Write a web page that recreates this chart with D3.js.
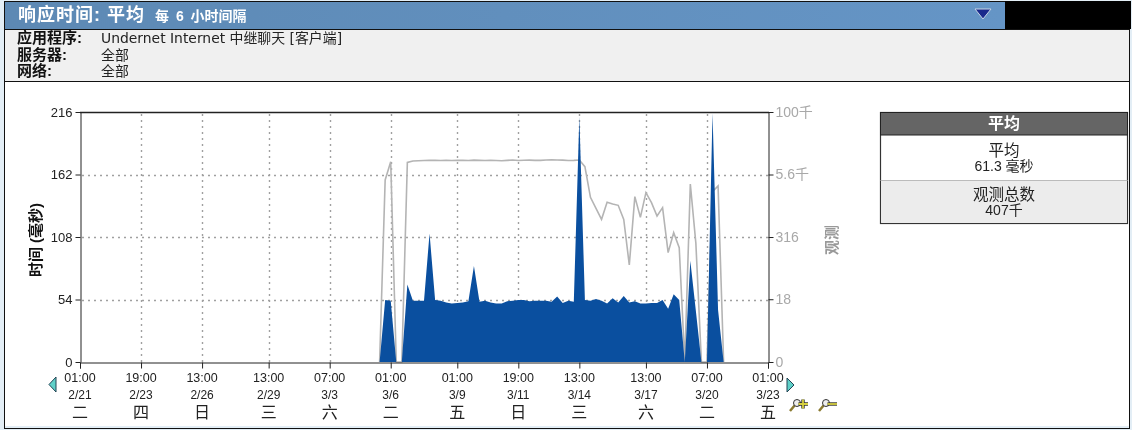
<!DOCTYPE html>
<html lang="zh-CN"><head><meta charset="utf-8">
<style>
html,body{margin:0;padding:0;background:#e3eef6;overflow:hidden}
svg{display:block;filter:blur(.3px)}
text{font-family:"Liberation Sans","Noto Sans CJK SC",sans-serif;font-size:12px}
</style>
<script src="https://cdn.jsdelivr.net/npm/d3@7"></script>
</head><body><div id="c"></div>
<script>
const titleMain = "响应时间: 平均";
const titleSub = "每 6 小时间隔";
const infoLabels = ["应用程序:", "服务器:", "网络:"];
const infoValues = ["Undernet Internet 中继聊天 [客户端]", "全部", "全部"];
const yLeftTicks = [0, 54, 108, 162, 216];
const yRightTicks = [1, 18, 316, 5623, 100000];
const yRightLabels = ["0", "18", "316", "5.6千", "100千"];
const xTickStamps = ["2012-02-21T01:00Z","2012-02-23T19:00Z","2012-02-26T13:00Z","2012-02-29T13:00Z","2012-03-03T07:00Z","2012-03-06T01:00Z","2012-03-09T01:00Z","2012-03-11T19:00Z","2012-03-14T13:00Z","2012-03-17T13:00Z","2012-03-20T07:00Z","2012-03-23T01:00Z"];
const xTimeLabels = ["01:00","19:00","13:00","13:00","07:00","01:00","01:00","19:00","13:00","13:00","07:00","01:00"];
const xDateLabels = ["2/21","2/23","2/26","2/29","3/3","3/6","3/9","3/11","3/14","3/17","3/20","3/23"];
const xDayLabels = ["二","四","日","三","六","二","五","日","三","六","二","五"];
const seriesStart = "2012-03-05T13:00Z";
const stepHours = 6;
const responseMs = [0,53.6,53,0,0,67,53,53,53,111,53.6,53,51.5,50.5,51,51.5,52.5,83,52,53,51.5,50.5,50.5,52.5,53,53.6,53.5,52.5,53,53,53,52,56.5,51,53,52,212,53.5,53,54.5,53,50.5,55,51.5,57,51.5,52.5,50.5,50.5,51,51,53.5,46,58.5,53.5,0,87.5,44,0,0,215,45,0];
const observations = [1,4365,10150,1,1,9800,10500,10600,10700,10800,10800,10700,10800,10750,10800,10800,10700,10900,10800,10700,10850,10700,10600,10800,10950,10700,10850,10900,10800,10800,10950,11100,10950,10900,10700,10800,10965,8066,1965,1184,713,1561,1445,1360,713,87,2027,782,2437,1537,832,1221,154,386,194,1,3631,236,1,1,2552,3311,1];
const panelTitle = "平均";
const panelRows = [["平均","61.3 毫秒"],["观测总数","407千"]];
const leftAxisTitle = "时间 (毫秒)";
const rightAxisTitle = "观测";

const W=1132,H=430;
const svg=d3.select("#c").append("svg").attr("width",W).attr("height",H);
const defs=svg.append("defs");
const g1=defs.append("linearGradient").attr("id","hdr");
g1.append("stop").attr("offset","0").attr("stop-color","#5d89b4");
g1.append("stop").attr("offset","1").attr("stop-color","#6595c6");

// frame
svg.append("rect").attr("x",4.5).attr("y",1.5).attr("width",1125).attr("height",427).attr("fill","#e3eef6").attr("stroke","#111");
svg.append("rect").attr("x",5).attr("y",82).attr("width",1124).attr("height",344).attr("fill","#fff");
svg.append("rect").attr("x",5).attr("y",2).attr("width",1000).attr("height",27).attr("fill","url(#hdr)");
svg.append("rect").attr("x",1005).attr("y",1).attr("width",126).attr("height",28).attr("fill","#000");
svg.append("rect").attr("x",5).attr("y",30).attr("width",1124).attr("height",51).attr("fill","#f0f0f0");
svg.append("path").attr("d","M4 29.5H1130M4 81.5H1130").attr("stroke","#111");
svg.append("text").attr("x",18).attr("y",21).attr("fill","#fff").style("font-size","18px").style("letter-spacing","1px").style("font-weight",700).text(titleMain);
svg.append("text").attr("x",155).attr("y",21).attr("fill","#fff").style("font-size","14px").style("word-spacing","3px").style("font-weight",700).text(titleSub);
svg.append("path").attr("d","M975 9H991L983 19Z").attr("fill","#1a2a8c").attr("stroke","#c8d4e4");
const infoY=[43,60,76];
infoLabels.forEach((t,i)=>{
  svg.append("text").attr("x",17).attr("y",infoY[i]).attr("fill","#111").style("font-size","15px").style("font-weight",700).text(t);
  svg.append("text").attr("x",101).attr("y",infoY[i]).attr("fill","#222").style("font-family",'"DejaVu Sans","Noto Sans CJK SC",sans-serif').style("font-size","13.9px").text(infoValues[i]);
});

// scales
const parse=d3.utcParse("%Y-%m-%dT%H:%MZ");
const xTickDates=xTickStamps.map(parse);
const x=d3.scaleUtc().domain([xTickDates[0],xTickDates[xTickDates.length-1]]).range([80,768]);
const yL=d3.scaleLinear().domain([0,216]).range([362,112]);
const yR=d3.scaleLog().domain([1,100000]).range([362,112]);
const t0=parse(seriesStart);
const tAt=i=>new Date(+t0+i*stepHours*3600e3);

// grid
const grid=svg.append("g").attr("stroke","#a0a0a0").attr("stroke-width",1.4).attr("stroke-dasharray","2,4");
xTickDates.slice(1,-1).forEach(d=>grid.append("line").attr("x1",Math.round(x(d))+.5).attr("x2",Math.round(x(d))+.5).attr("y1",114).attr("y2",362));
yLeftTicks.slice(1,-1).forEach(v=>grid.append("line").attr("x1",82).attr("x2",768).attr("y1",Math.round(yL(v))+.5).attr("y2",Math.round(yL(v))+.5));

// observations under, response area above
svg.append("path").datum(observations).attr("fill","none").attr("stroke","#b4b4b4").attr("stroke-width",1.6)
 .attr("d",d3.line().x((d,i)=>x(tAt(i))).y(d=>yR(d)));
svg.append("path").datum(responseMs).attr("fill","#0a4f9f")
 .attr("d",d3.area().x((d,i)=>x(tAt(i))).y0(yL(0)).y1(d=>yL(d)));

// axes
const axB=svg.append("g").attr("transform","translate(0,362.5)")
 .call(d3.axisBottom(x).tickValues(xTickDates).tickFormat("").tickSizeOuter(0).tickSize(6));
axB.selectAll("path,line").attr("stroke","#222");
const axL=svg.append("g").attr("transform","translate(80.5,0)")
 .call(d3.axisLeft(yL).tickValues(yLeftTicks).tickSize(5).tickPadding(3).tickSizeOuter(0));
axL.selectAll("path,line").attr("stroke","#222");
axL.selectAll("text").attr("fill","#222").style("font-size","13px");
const axR=svg.append("g").attr("transform","translate(768.5,0)")
 .call(d3.axisRight(yR).tickValues(yRightTicks).tickFormat((d,i)=>yRightLabels[i]).tickSize(5).tickPadding(2).tickSizeOuter(0));
axR.selectAll("path,line").attr("stroke","#222");
axR.selectAll("text").attr("fill","#a8a8a8").style("font-size","14px");
svg.append("line").attr("x1",80).attr("x2",769).attr("y1",112.5).attr("y2",112.5).attr("stroke","#222").attr("stroke-width",1.3);

xTickDates.forEach((d,i)=>{
  const px=x(d);
  const mk=(y,t,s)=>svg.append("text").attr("x",px).attr("y",y).attr("text-anchor","middle").attr("fill","#222").style("font-size",s).text(t);
  mk(382,xTimeLabels[i],"12.5px");
  mk(399,xDateLabels[i],"12px");
  mk(418,xDayLabels[i],"16px");
});

svg.append("text").attr("transform","translate(41,240) rotate(-90)").attr("text-anchor","middle").attr("fill","#111").style("font-weight",700).style("font-size","15px").text(leftAxisTitle);
svg.append("text").attr("transform","translate(837,240) rotate(-90)").attr("text-anchor","middle").attr("fill","#999").style("font-weight",700).style("font-size","15px").text(rightAxisTitle);

// nav icons
svg.append("path").attr("d","M56 377L49 384.5L56 392Z").attr("fill","#5fd0c8").attr("stroke","#245");
svg.append("path").attr("d","M787 378L794 385L787 392Z").attr("fill","#5fd0c8").attr("stroke","#245");
const glass=(ox,plus)=>{
  const g=svg.append("g").attr("transform",`translate(${ox},399)`);
  g.append("path").attr("d","M1 12L6 6").attr("stroke","#8a7a30").attr("stroke-width",2.5);
  g.append("circle").attr("cx",8).attr("cy",4).attr("r",3.5).attr("fill","#eee").attr("stroke","#333");
  const d=plus?"M9.5 5H19M14 .5V9.5":"M9.5 5H19";
  g.append("path").attr("d",d).attr("stroke","#333").attr("stroke-width",3.4);
  g.append("path").attr("d",d).attr("stroke","#d6d040").attr("stroke-width",1.8);
};
glass(789,true);glass(818,false);

// summary panel
const px0=880.5,pw=247;
svg.append("rect").attr("x",px0).attr("y",112.5).attr("width",pw).attr("height",111).attr("fill","#fff").attr("stroke","#333").attr("stroke-width",1.2);
svg.append("rect").attr("x",px0).attr("y",112.5).attr("width",pw).attr("height",22.5).attr("fill","#656565").attr("stroke","#222");
svg.append("text").attr("x",px0+pw/2).attr("y",128.5).attr("text-anchor","middle").attr("fill","#fff").style("font-weight",700).style("font-size","16px").text(panelTitle);
svg.append("rect").attr("x",px0+1).attr("y",180).attr("width",pw-2).attr("height",43).attr("fill","#ececec");
svg.append("line").attr("x1",px0).attr("x2",px0+pw).attr("y1",180.5).attr("y2",180.5).attr("stroke","#bbb");
panelRows.forEach((r,i)=>{
  const y0=[156,200][i];
  svg.append("text").attr("x",px0+pw/2).attr("y",y0).attr("text-anchor","middle").attr("fill","#222").style("font-size","15.5px").text(r[0]);
  svg.append("text").attr("x",px0+pw/2).attr("y",y0+15).attr("text-anchor","middle").attr("fill","#222").style("font-size","14px").text(r[1]);
});
</script></body></html>
